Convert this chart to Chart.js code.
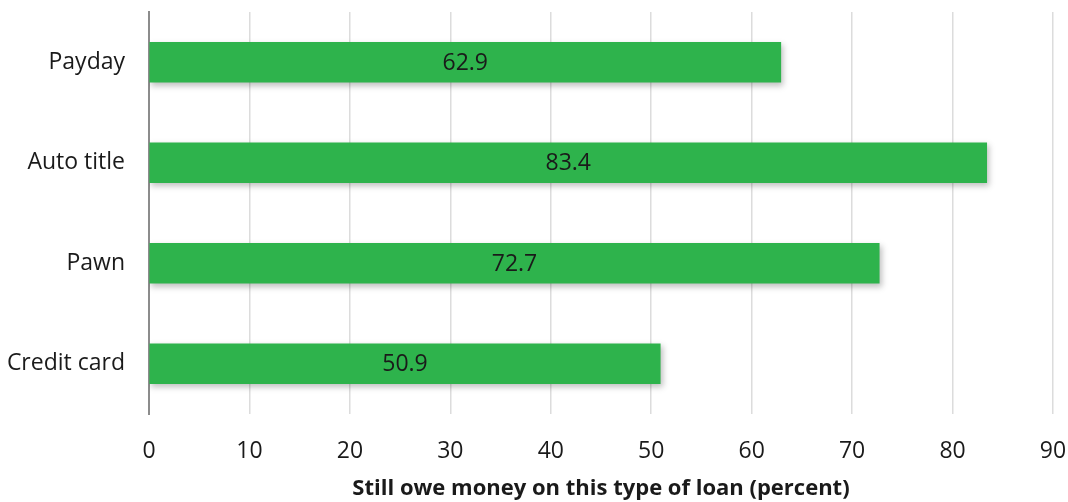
<!DOCTYPE html>
<html>
<head>
<meta charset="utf-8">
<script src="https://cdn.jsdelivr.net/npm/chart.js@4"></script>
<style>
  html, body { margin: 0; padding: 0; background: #fff; }
  #wrap { width: 1068px; height: 502px; position: relative; }
</style>
</head>
<body>
<div id="wrap"><canvas id="loanChart"></canvas></div>
<script>
const loanTypes = ['Payday', 'Auto title', 'Pawn', 'Credit card'];
const stillOwe = [62.9, 83.4, 72.7, 50.9];
const xTicks = [0, 10, 20, 30, 40, 50, 60, 70, 80, 90];

Chart.defaults.font.family = '"Open Sans", Lato, sans-serif';
Chart.defaults.color = '#1a1a1a';

// soft drop shadow under the bars, like the original
const barShadow = {
    id: 'barShadow',
    beforeDatasetDraw(chart) {
        const ctx = chart.ctx;
        ctx.save();
        ctx.shadowColor = 'rgba(0,0,0,0.25)';
        ctx.shadowBlur = 6;
        ctx.shadowOffsetX = 2;
        ctx.shadowOffsetY = 3;
    },
    afterDatasetDraw(chart) {
        chart.ctx.restore();
    }
};

// value labels in the middle of each bar
const barLabels = {
    id: 'barLabels',
    afterDatasetsDraw(chart) {
        const ctx = chart.ctx;
        const meta = chart.getDatasetMeta(0);
        ctx.save();
        ctx.font = '23px "Open Sans", Lato, sans-serif';
        ctx.fillStyle = '#1a1a1a';
        ctx.textAlign = 'center';
        ctx.textBaseline = 'middle';
        meta.data.forEach((bar, i) => {
            const cx = (bar.x + bar.base) / 2;
            ctx.fillText(stillOwe[i].toFixed(1), cx, bar.y + 1);
        });
        ctx.restore();
    }
};

new Chart(document.getElementById('loanChart'), {
    type: 'bar',
    data: {
        labels: loanTypes,
        datasets: [{
            label: 'Still owe money',
            data: stillOwe,
            backgroundColor: '#2eb34c',
            borderWidth: 0,
            barThickness: 40
        }]
    },
    options: {
        indexAxis: 'y',
        responsive: true,
        maintainAspectRatio: false,
        animation: false,
        layout: {
            padding: { top: 12, right: 15, left: 0, bottom: 0 }
        },
        plugins: {
            legend: { display: false },
            tooltip: { enabled: false }
        },
        scales: {
            x: {
                min: 0,
                max: 90,
                afterBuildTicks: (scale) => {
                    scale.ticks = xTicks.map(v => ({ value: v }));
                },
                afterFit: (scale) => {
                    scale.height = 88;
                    scale.paddingLeft = 0;
                    scale.paddingRight = 0;
                },
                grid: {
                    color: '#dcdcdc',
                    lineWidth: 1.5,
                    drawTicks: false
                },
                border: { display: false },
                ticks: {
                    padding: 24,
                    font: { size: 23 },
                    color: '#1a1a1a'
                },
                title: {
                    display: true,
                    text: 'Still owe money on this type of loan (percent)',
                    font: { size: 22, weight: 'bold' },
                    color: '#1a1a1a',
                    padding: { top: 4, bottom: 0 }
                }
            },
            y: {
                afterFit: (scale) => {
                    scale.width = 149;
                    scale.paddingTop = 0;
                    scale.paddingBottom = 0;
                },
                grid: { display: false, drawTicks: false },
                border: { display: true, color: '#8c8c8c', width: 2 },
                ticks: {
                    padding: 24,
                    font: { size: 23 },
                    color: '#1a1a1a'
                }
            }
        }
    },
    plugins: [barShadow, barLabels]
});
</script>
</body>
</html>
